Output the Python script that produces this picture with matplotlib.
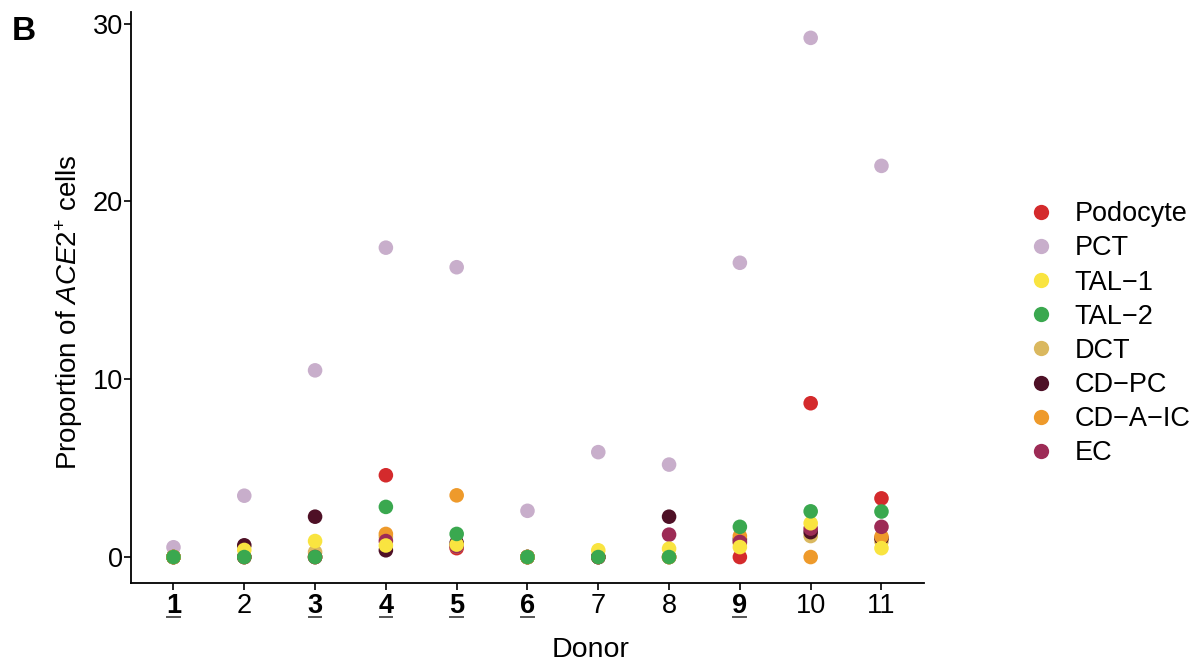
import matplotlib
matplotlib.use("Agg")
import matplotlib.pyplot as plt
import matplotlib.transforms as mtransforms

plt.rcParams.update(
    {
        "font.family": ["Liberation Sans", "DejaVu Sans"],
        "mathtext.fontset": "custom",
        "mathtext.rm": "Liberation Sans",
        "mathtext.it": "Liberation Sans:italic",
        "mathtext.bf": "Liberation Sans:bold",
    }
)

donors = [1, 2, 3, 4, 5, 6, 7, 8, 9, 10, 11]
bold_donors = [1, 3, 4, 5, 6, 9]

cell_types = ["Podocyte", "PCT", "TAL\u22121", "TAL\u22122", "DCT", "CD\u2212PC", "CD\u2212A\u2212IC", "EC"]

podocyte = [0.0, 0.0, 0.0, 4.6, 0.5, 0.0, 0.0, 0.0, 0.0, 8.65, 3.3]
pct = [0.55, 3.45, 10.5, 17.4, 16.3, 2.6, 5.9, 5.2, 16.55, 29.2, 22.0]
tal1 = [0.0, 0.4, 0.9, 0.65, 0.7, 0.0, 0.38, 0.47, 0.56, 1.9, 0.5]
tal2 = [0.0, 0.0, 0.0, 2.82, 1.3, 0.0, 0.0, 0.0, 1.7, 2.57, 2.56]
dct = [0.0, 0.0, 0.28, 1.13, 0.6, 0.0, 0.0, 0.0, 0.8, 1.18, 0.88]
cd_pc = [0.0, 0.66, 2.27, 0.38, 0.8, 0.0, 0.0, 2.27, 1.0, 1.4, 1.05]
cd_a_ic = [0.0, 0.0, 0.0, 1.3, 3.47, 0.0, 0.0, 0.0, 1.18, 0.0, 1.15]
ec = [0.0, 0.0, 0.0, 0.9, 0.6, 0.0, 0.0, 1.26, 0.85, 1.6, 1.7]

series = [podocyte, pct, tal1, tal2, dct, cd_pc, cd_a_ic, ec]
colors = ["#d42a2c", "#c8aecb", "#f9e440", "#3aa84f", "#dab85f", "#4e1026", "#ee9a2b", "#9d2b56"]
# drawing order so the overlaps look like the original
draw_order = [0, 1, 4, 5, 6, 7, 2, 3]

fig = plt.figure(figsize=(12.04, 6.61), dpi=100)
ax = fig.add_axes([0.1088, 0.118, 0.6586, 0.864])

for i in draw_order:
    ax.scatter(donors, series[i], s=110, color=colors[i], edgecolors="none", zorder=3)

ax.set_xlim(0.4, 11.6)
ax.set_ylim(-1.46, 30.66)
ax.set_yticks([0, 10, 20, 30])
ax.set_xticks(donors)
ax.set_xticklabels([str(d) for d in donors])
for lbl, d in zip(ax.get_xticklabels(), donors):
    if d in bold_donors:
        lbl.set_fontweight("bold")

ax.tick_params(axis="both", labelsize=19.5, length=5, width=1.2, color="black", labelcolor="black")
ax.tick_params(axis="x", pad=2)
ax.tick_params(axis="y", pad=1)
for side in ["top", "right"]:
    ax.spines[side].set_visible(False)
for side in ["left", "bottom"]:
    ax.spines[side].set_linewidth(1.3)

# underline the bold donors
trans = mtransforms.blended_transform_factory(ax.transData, ax.transAxes)
for d in bold_donors:
    ax.plot([d - 0.09, d + 0.09], [-0.059, -0.059], color="#555555", lw=1.4,
            transform=trans, clip_on=False)

ax.set_xlabel("Donor", fontsize=20.5)
ax.xaxis.set_label_coords(0.579, -0.095)
ax.set_ylabel(r"Proportion of $\mathit{ACE2}^{+}$ cells", fontsize=20)
ax.yaxis.set_label_coords(-0.058, 0.475)

fig.text(0.01, 0.953, "B", fontsize=24, fontweight="bold", ha="left", va="center")

handles = [
    plt.Line2D([], [], marker="o", linestyle="none", markersize=11,
               markerfacecolor=c, markeredgecolor="none")
    for c in colors
]
fig.legend(handles, cell_types, loc="center left", bbox_to_anchor=(0.833, 0.495),
           frameon=False, fontsize=19.5, handletextpad=0.75, labelspacing=0.3,
           handlelength=1.0)

fig.savefig("out.png", dpi=100)
